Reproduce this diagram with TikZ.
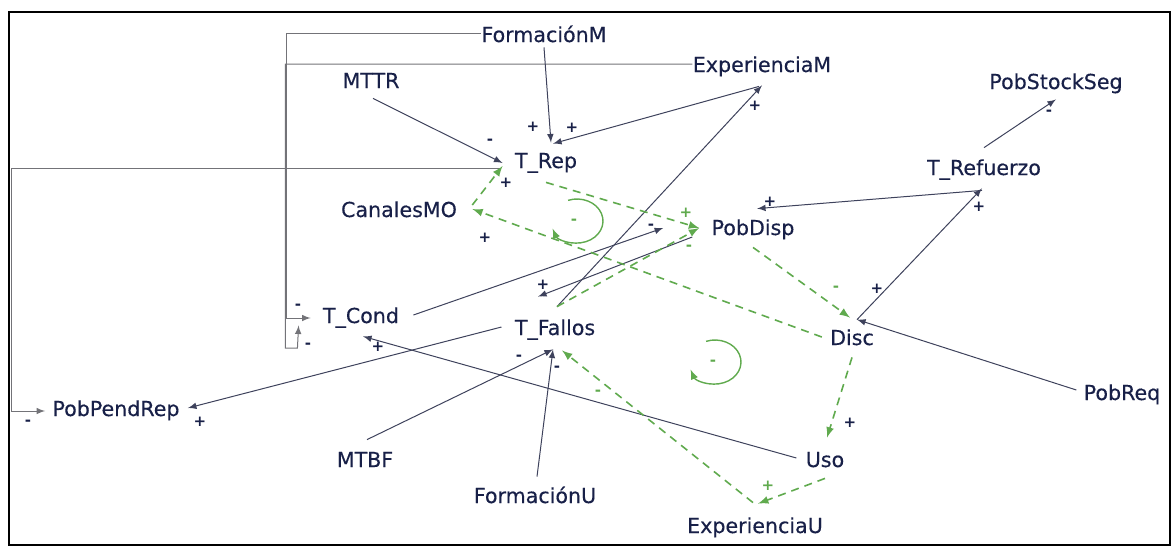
\documentclass[tikz,border=0pt]{standalone}
\usepackage{fontspec}
\setmainfont{DejaVu Sans}
\newfontfamily\varfont{DejaVu Sans}[FakeBold=0.35]
\usetikzlibrary{arrows}
\definecolor{azul}{RGB}{24,32,72}
\definecolor{linea}{RGB}{62,66,92}
\definecolor{gris}{RGB}{115,115,120}
\definecolor{verde}{RGB}{96,170,78}
\tikzstyle{var} = [anchor=base, inner sep=0pt, text height=7.5pt, text depth=2.5pt, text=azul, font=\varfont\fontsize{10.3}{12}\selectfont]
\tikzstyle{link} = [draw=linea, line width=0.5pt, -latex]
\tikzstyle{linkv} = [draw=verde, line width=0.8pt, dash pattern=on 4pt off 3pt, -latex]
\tikzstyle{bucle} = [draw=verde, line width=0.7pt, -latex]
\tikzstyle{pol} = [inner sep=0pt, text=azul, font=\fontsize{7.5}{8}\selectfont\bfseries]
\tikzstyle{polv} = [pol, text=verde]

\begin{document}
\begin{tikzpicture}[x=0.5pt,y=-0.5pt]
\useasboundingbox (0,0) rectangle (1174,548);
\draw[line width=1.2pt] (9,12) rectangle (1170,545);
% variables
\node[var] (FM) at (544,42) {FormaciónM};
\node[var] (EM) at (762,72) {ExperienciaM};
\node[var] (MTTR) at (371,88) {MTTR};
\node[var] (TRep) at (546,168) {T\_Rep};
\node[var] (CMO) at (399,217) {CanalesMO};
\node[var] (PDisp) at (753,235) {PobDisp};
\node[var] (TRef) at (984,175) {T\_Refuerzo};
\node[var] (PSS) at (1056,89) {PobStockSeg};
\node[var] (TCond) at (361,323) {T\_Cond};
\node[var] (TFal) at (555,335) {T\_Fallos};
\node[var] (Disc) at (852,345) {Disc};
\node[var] (PReq) at (1122,400) {PobReq};
\node[var] (PPR) at (116,416) {PobPendRep};
\node[var] (MTBF) at (365,467) {MTBF};
\node[var] (FU) at (535,503) {FormaciónU};
\node[var] (Uso) at (825,467) {Uso};
\node[var] (EU) at (755,533) {ExperienciaU};
% relaciones
\draw[link,draw=gris] ([yshift=2pt]FM.west) -- ++(-195,0) |- ([xshift=-6pt]TCond.west);
\draw[link,draw=gris] ([yshift=1.5pt]EM.west) -- ++(-407,0) -- ++(0,284) -- ++(12,0) -- ([xshift=-12pt,yshift=1.5pt]TCond.south west);
\draw[link] (FM.south) -- ([xshift=2.5pt,yshift=5pt]TRep.north);
\draw[link] ([xshift=-1.5pt,yshift=-4.5pt]EM.south) -- ([xshift=3.5pt,yshift=4.5pt]TRep.north);
\draw[link] ([xshift=1pt,yshift=6.5pt]TFal.north) -- ([yshift=-4pt]EM.south);
\draw[link] ([xshift=1pt,yshift=-2.5pt]MTTR.south) -- ([xshift=-6pt]TRep.west);
\draw[link,draw=gris] ([xshift=-7.5pt,yshift=-2.5pt]TRep.west) -- ++(-488,0) |- ([xshift=-3.5pt]PPR.west);
\draw[link] ([xshift=-6.5pt,yshift=1.5pt]TFal.west) -- ([xshift=4pt,yshift=1.5pt]PPR.east);
\draw[link] ([xshift=-4.5pt,yshift=2pt]Uso.west) -- ([xshift=1pt,yshift=-4pt]TCond.south);
\draw[link] ([xshift=7pt,yshift=1.5pt]TCond.east) -- ([xshift=-24pt,yshift=1pt]PDisp.west);
\draw[link] ([xshift=-9.5pt,yshift=-3.5pt]PDisp.west) -- ([xshift=-8.5pt,yshift=11.5pt]TFal.north);
\draw[link] ([xshift=-1pt,yshift=-5pt]TRef.south) -- ([xshift=2pt,yshift=5.5pt]PDisp.north);
\draw[link] ([xshift=2.5pt,yshift=5pt]Disc.north) -- ([xshift=-1pt,yshift=-4pt]TRef.south);
\draw[link] ([xshift=-3.5pt,yshift=2.5pt]PReq.west) -- ([xshift=2.5pt,yshift=5pt]Disc.north);
\draw[link] ([yshift=6pt]TRef.north) -- ([yshift=-2.5pt]PSS.south);
\draw[link] ([xshift=1pt,yshift=6pt]MTBF.north) -- ([xshift=-1pt,yshift=-4.5pt]TFal.south);
\draw[link] ([xshift=1pt,yshift=5.5pt]FU.north) -- ([xshift=-1pt,yshift=-4.5pt]TFal.south);
% bucles (verde)
\draw[linkv] ([xshift=7.5pt,yshift=3.5pt]CMO.east) -- ([xshift=-6pt,yshift=-1.5pt]TRep.west);
\draw[linkv] ([xshift=-4pt,yshift=1.5pt]Disc.west) -- ([xshift=7.5pt,yshift=1.5pt]CMO.east);
\draw[linkv] ([yshift=-4.5pt]TRep.south) -- ([xshift=-6pt,yshift=1pt]PDisp.west);
\draw[linkv] ([xshift=1pt,yshift=6.5pt]TFal.north) -- ([xshift=-6pt,yshift=1pt]PDisp.west);
\draw[linkv] ([yshift=-3.5pt]PDisp.south) -- ([xshift=-1pt,yshift=6pt]Disc.north);
\draw[linkv] ([yshift=-3.5pt]Disc.south) -- ([xshift=1pt,yshift=7pt]Uso.north);
\draw[linkv] ([yshift=-3pt]Uso.south) -- ([xshift=1.5pt,yshift=7pt]EU.north);
\draw[linkv] ([xshift=-1pt,yshift=7.5pt]EU.north) -- ([xshift=3.5pt,yshift=-5pt]TFal.south);
\draw[bucle] (577,221) ++(110:13pt and 11pt) arc[start angle=110,end angle=-160,x radius=13pt,y radius=11pt];
\draw[bucle] (715,362) ++(110:13pt and 11pt) arc[start angle=110,end angle=-160,x radius=13pt,y radius=11pt];
% polaridades
\node[pol] (s1) at (533,127) {+};
\node[pol] (s2) at (572,128) {+};
\node[pol] (s3) at (755,106) {+};
\node[pol] (s4) at (506,183) {+};
\node[pol] (s5) at (485,238) {+};
\node[pol] (s6) at (543,285) {+};
\node[pol] (s7) at (770,202) {+};
\node[pol] (s8) at (979,207) {+};
\node[pol] (s9) at (877,289) {+};
\node[pol] (s10) at (378,347) {+};
\node[pol] (s11) at (200,422) {+};
\node[pol] (s12) at (850,423) {+};
\node[pol] (s13) at (490,142) {-};
\node[pol] (s14) at (298,307) {-};
\node[pol] (s15) at (308,346) {-};
\node[pol] (s16) at (28,423) {-};
\node[pol] (s17) at (651,227) {-};
\node[pol] (s18) at (1049,113) {-};
\node[pol] (s19) at (519,358) {-};
\node[pol] (s20) at (557,369) {-};
\node[polv] (g1) at (686,213) {+};
\node[polv] (g2) at (768,486) {+};
\node[polv] (g3) at (689,248) {-};
\node[polv] (g4) at (836,289) {-};
\node[polv] (g5) at (598,393) {-};
\node[polv] (g6) at (574,222) {-};
\node[polv] (g7) at (713,363) {-};
\end{tikzpicture}
\end{document}
